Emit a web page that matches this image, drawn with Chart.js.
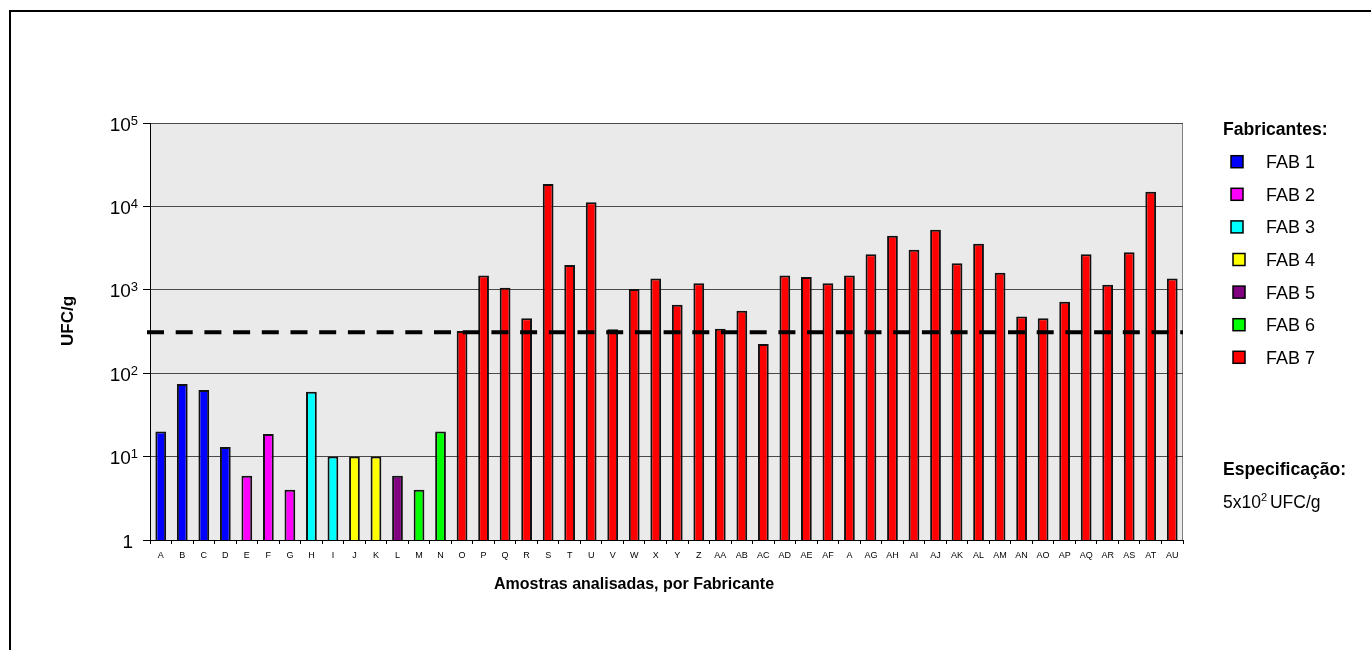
<!DOCTYPE html>
<html>
<head>
<meta charset="utf-8">
<script src="https://cdn.jsdelivr.net/npm/chart.js@4.4.1/dist/chart.umd.min.js"></script>
<style>
  html, body { margin: 0; padding: 0; background: #fff; overflow: hidden; }
  #wrap { position: relative; width: 1371px; height: 650px; }
  #moldura { position: absolute; left: 9px; top: 10px; width: 1420px; height: 720px;
             border: 2px solid #000; box-sizing: border-box; pointer-events: none; }
  canvas { position: absolute; left: 0; top: 0; }
</style>
</head>
<body>
<div id="wrap">
  <canvas id="grafico" width="1371" height="650"></canvas>
  <div id="moldura"></div>
</div>
<script>
// dados
var amostras = ["A", "B", "C", "D", "E", "F", "G", "H", "I", "J", "K", "L", "M", "N",
  "O", "P", "Q", "R", "S", "T", "U", "V", "W", "X", "Y", "Z", "AA", "AB", "AC", "AD",
  "AE", "AF", "A", "AG", "AH", "AI", "AJ", "AK", "AL", "AM", "AN", "AO", "AP", "AQ",
  "AR", "AS", "AT", "AU"];

var ufc = [20, 74, 63, 13, 5.9, 18.6, 4, 60, 10, 10, 10, 5.9, 4, 20,
  320, 1480, 1060, 455, 18600, 1980, 11200, 336, 1020, 1370, 660, 1200, 340, 560, 224, 1480,
  1420, 1200, 1480, 2660, 4450, 3030, 5260, 2080, 3570, 1600, 480, 455, 720, 2660,
  1150, 2820, 15000, 1370];

// indice do fabricante de cada amostra (0 = FAB 1 ... 6 = FAB 7)
var fabDaAmostra = [0, 0, 0, 0, 1, 1, 1, 2, 2, 3, 3, 4, 5, 5,
  6, 6, 6, 6, 6, 6, 6, 6, 6, 6, 6, 6, 6, 6, 6, 6,
  6, 6, 6, 6, 6, 6, 6, 6, 6, 6, 6, 6, 6, 6,
  6, 6, 6, 6];

var fabricantes = ["FAB 1", "FAB 2", "FAB 3", "FAB 4", "FAB 5", "FAB 6", "FAB 7"];
var coresFab = ["#0000ff", "#ff00ff", "#00ffff", "#ffff00", "#800080", "#00ff00", "#ff0000"];

var ticksY = [1, 10, 100, 1000, 10000, 100000];
var linhaEspec = 310;   // posicao da linha tracejada

var FONTE = "'Liberation Sans', Arial, Helvetica, sans-serif";

// texto com expoente (10^n), alinhado pela direita
function _txtPotencia(ctx, base, exp, xDir, baseline, tamBase, tamExp, sobe) {
  ctx.font = tamExp + "px " + FONTE;
  var we = exp ? ctx.measureText(exp).width : 0;
  ctx.font = tamBase + "px " + FONTE;
  var wb = ctx.measureText(base).width;
  ctx.textAlign = "left";
  ctx.textBaseline = "alphabetic";
  ctx.fillText(base, xDir - we - wb, baseline);
  if (exp) {
    ctx.font = tamExp + "px " + FONTE;
    ctx.fillText(exp, xDir - we, baseline - sobe);
  }
}

// ── fundo cinza da area de plotagem + borda cinza ───────────────────────────
var fundoPlot = {
  id: "fundoPlot",
  beforeDraw: function(chart) {
    var a = chart.chartArea, ctx = chart.ctx;
    ctx.save();
    ctx.fillStyle = "#eaeaea";
    ctx.fillRect(a.left, a.top, a.right - a.left, a.bottom - a.top);
    ctx.strokeStyle = "#808080";
    ctx.lineWidth = 1;
    ctx.beginPath();
    ctx.moveTo(a.left, a.top + 0.5);
    ctx.lineTo(a.right - 0.5, a.top + 0.5);
    ctx.lineTo(a.right - 0.5, a.bottom);
    ctx.stroke();
    ctx.restore();
  }
};

// ── linha tracejada da especificacao ────────────────────────────────────────
var linhaTracejada = {
  id: "linhaTracejada",
  afterDatasetsDraw: function(chart) {
    var a = chart.chartArea, ctx = chart.ctx;
    var y = chart.scales.y.getPixelForValue(linhaEspec);
    ctx.save();
    ctx.strokeStyle = "#000";
    ctx.lineWidth = 4;
    ctx.setLineDash([17, 11.7]);
    ctx.beginPath();
    ctx.moveTo(a.left - 3, y);
    ctx.lineTo(a.right, y);
    ctx.stroke();
    ctx.restore();
  }
};

// ── rotulos do eixo y, titulos e legenda ────────────────────────────────────
var textos = {
  id: "textos",
  afterDraw: function(chart) {
    var ctx = chart.ctx, yS = chart.scales.y;
    ctx.save();
    ctx.fillStyle = "#000";

    yS.ticks.forEach(function(t) {
      var py = yS.getPixelForValue(t.value);
      var n = Math.round(Math.log10(t.value));
      if (n === 0) _txtPotencia(ctx, "1", "", 133, py + 7.5, 19, 13, 0);
      else _txtPotencia(ctx, "10", String(n), 138, py + 7.5, 19, 13, 6);
    });

    // titulo y
    ctx.save();
    ctx.translate(73, 321);
    ctx.rotate(-Math.PI / 2);
    ctx.font = "bold 17px " + FONTE;
    ctx.textAlign = "center";
    ctx.textBaseline = "alphabetic";
    ctx.fillText("UFC/g", 0, 0);
    ctx.restore();

    // titulo x
    ctx.font = "bold 16px " + FONTE;
    ctx.textAlign = "center";
    ctx.textBaseline = "alphabetic";
    ctx.fillText("Amostras analisadas, por Fabricante", 634, 588.5);

    // legenda
    ctx.textAlign = "left";
    ctx.font = "bold 17.6px " + FONTE;
    ctx.fillText("Fabricantes:", 1223, 135);
    fabricantes.forEach(function(nome, i) {
      var cy = 161.7 + i * 32.6;
      var sx = i < 3 ? 1231 : 1233;
      ctx.fillStyle = coresFab[i];
      ctx.fillRect(sx, cy - 6, 12, 12);
      ctx.strokeStyle = "#000";
      ctx.lineWidth = 1.5;
      ctx.strokeRect(sx, cy - 6, 12, 12);
      ctx.fillStyle = "#000";
      ctx.font = "18px " + FONTE;
      ctx.fillText(nome, 1266, cy + 6.4);
    });

    ctx.font = "bold 17.6px " + FONTE;
    ctx.fillText("Especificação:", 1223, 475);
    ctx.font = "17.5px " + FONTE;
    ctx.fillText("5x10", 1223, 508);
    var w = ctx.measureText("5x10").width;
    ctx.font = "11px " + FONTE;
    ctx.fillText("2", 1223 + w, 501);
    var w2 = ctx.measureText("2").width;
    ctx.font = "17.5px " + FONTE;
    ctx.fillText(" UFC/g", 1223 + w + w2 - 2, 508);

    ctx.restore();
  }
};

new Chart(document.getElementById("grafico"), {
  type: "bar",
  data: {
    labels: amostras,
    datasets: [{
      label: "UFC/g",
      data: ufc,
      backgroundColor: amostras.map(function(_, i) { return coresFab[fabDaAmostra[i]]; }),
      borderColor: "#111",
      borderWidth: 2,
      borderSkipped: "bottom",
      barPercentage: 0.5,
      categoryPercentage: 1
    }]
  },
  options: {
    responsive: false,
    animation: false,
    devicePixelRatio: 1,
    layout: { padding: { left: 0, right: 188, top: 123, bottom: 0 } },
    plugins: {
      legend: { display: false },
      tooltip: { enabled: false }
    },
    scales: {
      x: {
        grid: { display: true, drawOnChartArea: false, drawTicks: true, tickLength: 4,
                offset: true, color: "#000" },
        border: { display: true, color: "#000", width: 1 },
        ticks: { autoSkip: false, maxRotation: 0, minRotation: 0, padding: 6,
                 color: "#000", font: { family: FONTE, size: 9 } },
        afterFit: function(axis) { axis.height = 110; }
      },
      y: {
        type: "logarithmic",
        min: 1, max: 100000,
        grid: { color: "#4a4a4a", lineWidth: 1, drawTicks: true, tickLength: 7, tickColor: "#000" },
        border: { display: true, color: "#000", width: 1 },
        ticks: { display: false },
        afterBuildTicks: function(axis) {
          axis.ticks = ticksY.map(function(v) { return { value: v }; });
        },
        afterFit: function(axis) { axis.width = 150; }
      }
    }
  },
  plugins: [fundoPlot, linhaTracejada, textos]
});
</script>
</body>
</html>
